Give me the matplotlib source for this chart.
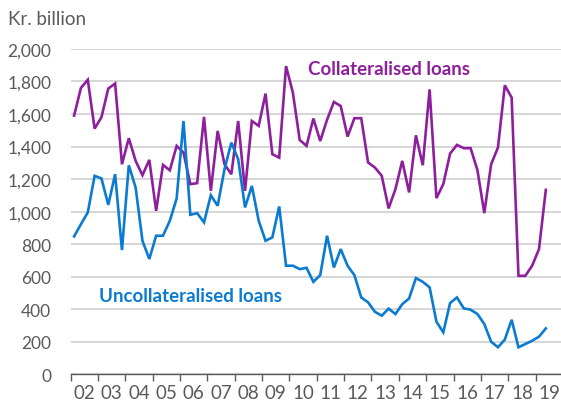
import numpy as np
import matplotlib
matplotlib.use("Agg")
import matplotlib.pyplot as plt

# quarterly data, 2002 Q1 - 2019 Q2, kr. billion
collateralised = [
    1590, 1760, 1810, 1510,
    1580, 1756, 1787, 1291,
    1451, 1312, 1224, 1318,
    1005, 1287, 1254, 1404,
    1363, 1169, 1175, 1582,
    1128, 1496, 1291, 1230,
    1557, 1128, 1557, 1527,
    1725, 1353, 1332, 1894,
    1731, 1440, 1404, 1572,
    1434, 1564, 1674, 1649,
    1461, 1574, 1574, 1302,
    1271, 1220, 1020, 1138,
    1312, 1118, 1469, 1285,
    1751, 1083, 1169, 1357,
    1410, 1390, 1390, 1254,
    991, 1291, 1394, 1776,
    1701, 606, 606, 668,
    770, 1134,
]
uncollateralised = [
    848, 923, 995, 1220,
    1204, 1042, 1230, 764,
    1285, 1148, 821, 709,
    852, 852, 944, 1081,
    1557, 981, 991, 934,
    1101, 1036, 1261, 1424,
    1322, 1026, 1158, 944,
    821, 842, 1032, 668,
    668, 647, 655, 569,
    610, 852, 657, 770,
    668, 610, 473, 443,
    385, 361, 404, 371,
    432, 467, 592, 569,
    535, 324, 259, 439,
    473, 406, 398, 371,
    310, 201, 167, 214,
    336, 167, 187, 207,
    232, 283,
]
years = list(range(2002, 2020))
year_labels = ["%02d" % (y % 100) for y in years]
y_ticks = [0, 200, 400, 600, 800, 1000, 1200, 1400, 1600, 1800, 2000]

purple = "#8e1f9c"
blue = "#0a7bd1"
grey = "#5a5a5a"

plt.rcParams["font.family"] = ["Lato", "DejaVu Sans"]

t = 2002 + 0.125 + 0.25 * np.arange(len(collateralised))

fig = plt.figure(figsize=(5.61, 4.02), dpi=100)
ax = fig.add_axes([0.126, 0.066, 0.874, 0.81])

ax.plot(t, collateralised, color=purple, lw=1.9, solid_joinstyle="miter")
ax.plot(t, uncollateralised, color=blue, lw=1.9, solid_joinstyle="miter")

ax.set_xlim(2002, 2019.93)
ax.set_ylim(0, 2000)
ax.set_yticks(y_ticks)
ax.set_yticklabels(["{:,}".format(v) for v in y_ticks])
ax.yaxis.grid(True, color="#cccccc", lw=1.1)
ax.set_axisbelow(True)

ax.set_xticks(years)
ax.set_xticklabels([])
ax.set_xticks([y + 0.5 for y in years], minor=True)
ax.set_xticklabels(year_labels, minor=True)
ax.tick_params(axis="x", which="major", length=5, width=1, color=grey, direction="out")
ax.tick_params(axis="x", which="minor", length=0, pad=7, labelsize=13.5, labelcolor=grey)
ax.tick_params(axis="y", length=0, pad=14, labelsize=12.5, labelcolor=grey)

for s in ["top", "right", "left"]:
    ax.spines[s].set_visible(False)
ax.spines["bottom"].set_color(grey)
ax.spines["bottom"].set_linewidth(1)

fig.text(0.014, 0.952, "Kr. billion", fontsize=13.5, color=grey, va="center", ha="left")

ax.text(2010.68, 1880, "Collateralised loans", color=purple, fontsize=13.5,
        fontweight="bold", va="center", ha="left")
ax.text(2003.04, 488, "Uncollateralised loans", color=blue, fontsize=13.5,
        fontweight="bold", va="center", ha="left")

fig.savefig("out.png", dpi=100)
